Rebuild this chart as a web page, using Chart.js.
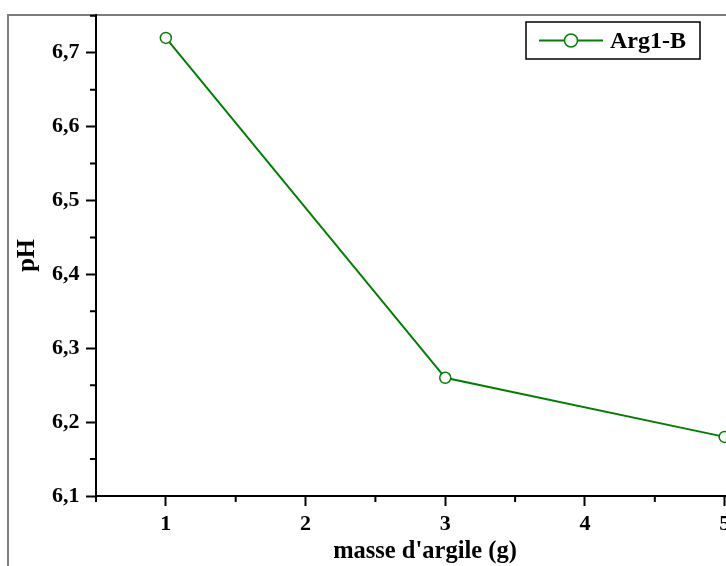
<!DOCTYPE html>
<html>
<head>
<meta charset="utf-8">
<script src="https://cdn.jsdelivr.net/npm/chart.js@4.4.0/dist/chart.umd.min.js"></script>
<style>
  html, body { margin: 0; padding: 0; background: #fff; }
  #wrap { position: relative; width: 726px; height: 566px; overflow: hidden; }
  #frame { position: absolute; left: 7px; top: 14px; width: 800px; height: 700px;
           border-top: 2px solid #7d7d7d; border-left: 2px solid #7d7d7d; }
  #chart { position: absolute; left: 0; top: 0; }
</style>
</head>
<body>
<div id="wrap">
  <div id="frame"></div>
  <!-- the original plot runs past the right edge of the picture -->
  <canvas id="chart" width="754" height="566"></canvas>
</div>
<script>
// data
const seriesLabel = 'Arg1-B';
const masses = [1, 3, 5];
const phValues = [6.72, 6.26, 6.18];

// axis ticks
const xTicks = [1, 2, 3, 4, 5];
const xMinorTicks = [0.5, 1.5, 2.5, 3.5, 4.5];
const yTicks = [6.1, 6.2, 6.3, 6.4, 6.5, 6.6, 6.7];
const yMinorTicks = [6.15, 6.25, 6.35, 6.45, 6.55, 6.65, 6.75];

const lineColor = '#008000';
const serif = "'Liberation Serif', 'Times New Roman', serif";

Chart.defaults.font.family = serif;
Chart.defaults.font.weight = 'bold';
Chart.defaults.color = '#000';

// short unlabeled ticks between the major ones
const minorTicks = {
  id: 'minorTicks',
  afterDraw(chart) {
    const { ctx, scales: { x, y } } = chart;
    ctx.save();
    ctx.strokeStyle = '#000';
    ctx.lineWidth = 2;
    ctx.beginPath();
    xMinorTicks.forEach((v) => {
      const px = x.getPixelForValue(v);
      ctx.moveTo(px, x.top);
      ctx.lineTo(px, x.top + 6);
    });
    yMinorTicks.forEach((v) => {
      const py = y.getPixelForValue(v);
      ctx.moveTo(y.right, py);
      ctx.lineTo(y.right - 6, py);
    });
    ctx.stroke();
    ctx.restore();
  },
};

// boxed legend in the top right corner, like the original plot
const boxLegend = {
  id: 'boxLegend',
  afterDraw(chart) {
    const { ctx } = chart;
    const ds = chart.data.datasets[0];
    const bx = 526, by = 22, bw = 174, bh = 37;
    const cy = by + bh / 2;
    ctx.save();
    ctx.strokeStyle = '#000';
    ctx.lineWidth = 1.5;
    ctx.strokeRect(bx, by, bw, bh);
    ctx.strokeStyle = ds.borderColor;
    ctx.lineWidth = ds.borderWidth;
    ctx.beginPath();
    ctx.moveTo(bx + 13, cy);
    ctx.lineTo(bx + 77, cy);
    ctx.stroke();
    ctx.beginPath();
    ctx.arc(bx + 45, cy, 6.5, 0, Math.PI * 2);
    ctx.fillStyle = '#fff';
    ctx.fill();
    ctx.lineWidth = ds.pointBorderWidth;
    ctx.strokeStyle = ds.pointBorderColor;
    ctx.stroke();
    ctx.fillStyle = '#000';
    ctx.font = 'bold 24px ' + serif;
    ctx.textBaseline = 'alphabetic';
    ctx.fillText(ds.label, bx + 84, by + 26);
    ctx.restore();
  },
};

new Chart(document.getElementById('chart'), {
  type: 'line',
  data: {
    datasets: [{
      label: seriesLabel,
      data: masses.map((m, i) => ({ x: m, y: phValues[i] })),
      borderColor: lineColor,
      borderWidth: 2,
      pointRadius: 5.5,
      pointBorderWidth: 1.5,
      pointBorderColor: lineColor,
      pointBackgroundColor: '#fff',
      tension: 0,
      clip: false,
    }],
  },
  options: {
    responsive: false,
    animation: false,
    layout: { autoPadding: false, padding: { top: 15, left: 0, right: 0, bottom: 0 } },
    plugins: { legend: { display: false }, tooltip: { enabled: false } },
    scales: {
      x: {
        type: 'linear',
        min: 0.5,
        max: 5.21,
        afterBuildTicks: (s) => { s.ticks = xTicks.map((v) => ({ value: v })); },
        afterFit: (s) => { s.height = 70; s.paddingLeft = 0; s.paddingRight = 0; },
        ticks: { font: { size: 22 }, padding: 5, maxRotation: 0, autoSkip: false },
        grid: { drawOnChartArea: false, tickLength: 10, tickWidth: 2, tickColor: '#000' },
        border: { color: '#000', width: 2 },
        title: {
          display: true,
          text: "masse d'argile (g)",
          font: { size: 24.5 },
          padding: { top: 0, bottom: 0 },
        },
      },
      y: {
        type: 'linear',
        min: 6.1,
        max: 6.751,
        afterBuildTicks: (s) => { s.ticks = yTicks.map((v) => ({ value: v })); },
        afterFit: (s) => { s.width = 96; s.paddingTop = 0; s.paddingBottom = 0; },
        ticks: {
          font: { size: 22 },
          padding: 6.5,
          callback: (v) => v.toFixed(1).replace('.', ','),
        },
        grid: { drawOnChartArea: false, tickLength: 10, tickWidth: 2, tickColor: '#000' },
        border: { color: '#000', width: 2 },
        title: {
          display: true,
          text: 'pH',
          font: { size: 24.5 },
          padding: { top: 13, bottom: 0 },
        },
      },
    },
  },
  plugins: [minorTicks, boxLegend],
});
</script>
</body>
</html>
